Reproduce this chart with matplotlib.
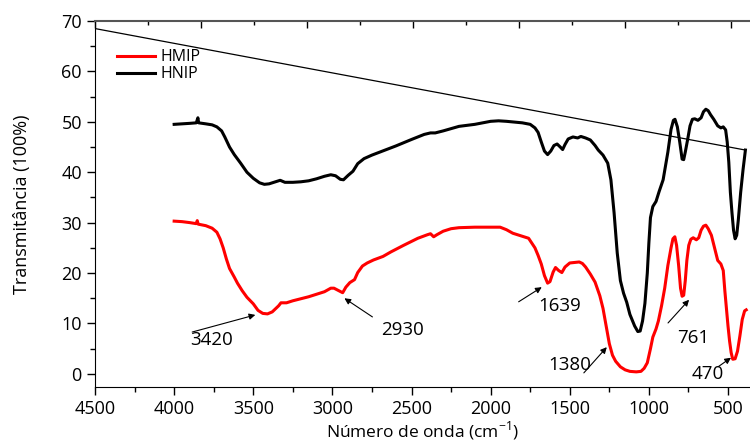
import matplotlib
matplotlib.use("Agg")
import matplotlib.pyplot as plt
from matplotlib.ticker import MultipleLocator

plt.rcParams['font.family'] = ['Open Sans', 'DejaVu Sans']

# HNIP (curva preta)
hnip_x = [4000, 3900, 3860, 3850, 3845, 3800, 3760, 3730, 3700, 3680, 3650, 3620, 3580, 3540,
          3500, 3460, 3430, 3400, 3360, 3330, 3300, 3250, 3200, 3150, 3100, 3050, 3010,
          2980, 2950, 2930, 2900, 2870, 2840, 2800, 2750, 2700, 2600, 2500, 2420, 2380,
          2350, 2300, 2200, 2100, 2000, 1950, 1900, 1800, 1750, 1720, 1700, 1680, 1660,
          1640, 1620, 1600, 1580, 1560, 1545, 1530, 1510, 1480, 1450, 1430, 1400, 1370,
          1340, 1320, 1290, 1260, 1240, 1220, 1200, 1180, 1160, 1140, 1120, 1090, 1070,
          1055, 1040, 1025, 1010, 1000, 990, 975, 955, 935, 910, 880, 860, 845, 835, 820,
          805, 790, 780, 770, 755, 740, 725, 710, 690, 670, 655, 640, 625, 610, 590, 565,
          545, 530, 515, 505, 495, 485, 475, 465, 455, 445, 435, 420, 405, 390]
hnip_y = [49.5, 49.7, 49.8, 50.8, 49.8, 49.6, 49.4, 49.0, 48.2, 47.0, 45.0, 43.5, 41.8, 40.0,
          38.8, 37.9, 37.6, 37.7, 38.1, 38.4, 38.0, 38.0, 38.1, 38.3, 38.7, 39.2, 39.5,
          39.3, 38.6, 38.5, 39.4, 40.2, 41.7, 42.7, 43.4, 44.0, 45.2, 46.5, 47.5, 47.8,
          47.8, 48.2, 49.1, 49.5, 50.1, 50.2, 50.1, 49.8, 49.5, 48.8, 47.9, 46.0, 44.2,
          43.5, 44.2, 45.3, 45.6, 45.0, 44.5, 45.5, 46.6, 47.0, 46.8, 47.1, 46.8, 46.4,
          45.3, 44.4, 43.4, 41.8, 38.5, 32.0, 24.0, 18.5, 16.0, 14.2, 11.8, 9.5, 8.4,
          8.5, 10.5, 14.0, 20.0, 26.0, 31.0, 33.2, 34.2, 36.2, 38.5, 44.0, 48.5, 50.3, 50.5, 49.0,
          46.0, 42.6, 42.5, 44.0, 46.5, 49.2, 50.5, 50.6, 50.3, 50.8, 52.0, 52.5, 52.2, 51.4, 50.5, 49.2,
          48.8, 49.0, 48.4, 46.0, 42.0, 36.0, 32.0, 28.5, 26.8, 27.5, 30.5, 36.0, 40.5, 44.4]

# HMIP (curva vermelha)
hmip_x = [4000, 3950, 3900, 3860, 3854, 3848, 3800, 3760, 3730, 3710, 3690, 3670, 3650,
          3620, 3600, 3570, 3540, 3500, 3470, 3440, 3410, 3380, 3360, 3340, 3325, 3290,
          3250, 3200, 3150, 3100, 3050, 3010, 2990, 2960, 2935, 2915, 2890, 2860, 2840,
          2810, 2780, 2740, 2680, 2630, 2550, 2460, 2400, 2380, 2360, 2340, 2300, 2250,
          2200, 2100, 2000, 1940, 1900, 1860, 1800, 1760, 1720, 1700, 1680, 1660, 1640,
          1625, 1605, 1590, 1570, 1550, 1530, 1500, 1470, 1440, 1420, 1400, 1370, 1340,
          1310, 1290, 1270, 1250, 1230, 1210, 1180, 1150, 1120, 1080, 1050, 1030, 1010,
          990, 975, 955, 940, 920, 900, 880, 860, 848, 836, 825, 812, 800, 790, 780, 770,
          760, 748, 735, 720, 700, 685, 670, 655, 640, 625, 605, 585, 565, 545, 530, 520,
          510, 500, 490, 480, 470, 455, 440, 425, 410, 395, 385]
hmip_y = [30.3, 30.2, 30.0, 29.8, 30.4, 29.7, 29.4, 28.9, 28.1, 26.8, 25.0, 22.8, 20.9,
          19.2, 18.0, 16.5, 15.2, 13.9, 12.6, 12.0, 11.9, 12.3, 12.9, 13.5, 14.1, 14.1,
          14.5, 14.9, 15.3, 15.8, 16.3, 17.0, 17.0, 16.5, 16.1, 17.2, 18.1, 18.7, 20.1,
          21.4, 22.0, 22.6, 23.3, 24.2, 25.5, 26.9, 27.6, 27.8, 27.2, 27.6, 28.3, 28.8,
          29.0, 29.1, 29.1, 29.1, 28.6, 27.9, 27.3, 26.9, 25.0, 23.5, 21.8, 19.5, 18.0,
          18.3, 20.2, 21.1, 20.5, 20.1, 21.2, 22.0, 22.1, 22.2, 21.9, 21.2, 19.8, 18.2,
          15.5, 13.0, 9.5, 6.0, 3.7, 2.5, 1.4, 0.8, 0.5, 0.4, 0.5, 1.1, 2.2,
          5.0, 7.3, 8.9, 10.5, 13.5, 17.0, 21.5, 25.0, 26.8, 27.2, 25.5, 21.5, 17.0, 15.4, 15.6, 18.5,
          22.5, 25.5, 26.7, 27.0, 26.6, 27.0, 28.5, 29.3, 29.5, 28.8, 27.5, 25.0, 22.5, 21.8, 20.5, 16.5,
          13.0, 9.5, 6.5, 4.2, 2.9, 3.0, 4.5, 7.5, 10.8, 12.5, 12.7]

# linha de base (reta)
base_x = [4500, 390]
base_y = [68.5, 44.4]

# anotações: texto, posição do texto, cauda e ponta da seta
labels = ["3420", "2930", "1639", "1380", "761", "470"]
label_pos = [(3761, 6.7), (2554, 8.7), (1562, 13.5), (1498, 1.8), (721, 7.1), (626, 0.0)]
arrow_tail = [(3886, 8.3), (2747, 11.3), (1823, 14.3), (1411, 0.2), (879, 10.1), (563, 1.4)]
arrow_head = [(3487, 11.7), (2924, 15.0), (1677, 17.2), (1266, 5.3), (746, 14.7), (481, 3.2)]

fig = plt.figure(figsize=(7.5, 4.44), dpi=100)
ax = fig.add_axes([0.1267, 0.1284, 0.8733, 0.8243])

ax.plot(hmip_x, hmip_y, color="#ff0000", lw=2.2, label="HMIP")
ax.plot(hnip_x, hnip_y, color="black", lw=2.2, label="HNIP")
ax.plot(base_x, base_y, color="black", lw=0.9)

for txt, pos, tail, head in zip(labels, label_pos, arrow_tail, arrow_head):
    ax.text(pos[0], pos[1], txt, ha="center", va="center", fontsize=13.5)
    ax.annotate("", xy=head, xytext=tail,
                arrowprops=dict(arrowstyle="-|>", color="black", lw=0.8,
                                mutation_scale=9, shrinkA=0, shrinkB=0))

ax.set_xlim(4500, 361)
ax.set_ylim(-2.6, 70)
ax.xaxis.set_major_locator(MultipleLocator(500))
ax.xaxis.set_minor_locator(MultipleLocator(250))
ax.yaxis.set_major_locator(MultipleLocator(10))
ax.yaxis.set_minor_locator(MultipleLocator(5))
ax.tick_params(which="major", direction="out", length=6, width=1, labelsize=13)
ax.tick_params(which="minor", direction="out", length=3.5, width=1)
ax.spines["right"].set_visible(False)
ax.spines["top"].set_visible(False)

# eixo superior sem rótulos
top = ax.twiny()
top.set_xlim(0, 6.18)
top.xaxis.set_major_locator(MultipleLocator(1))
top.xaxis.set_minor_locator(MultipleLocator(0.5))
top.tick_params(which="major", direction="in", length=5, width=1, labeltop=False)
top.tick_params(which="minor", direction="in", length=3, width=1)
top.spines["top"].set_color("#555555")
top.spines["top"].set_linewidth(1.5)
for s in ["left", "right", "bottom"]:
    top.spines[s].set_visible(False)

ax.set_xlabel("Número de onda (cm$^{\\mathregular{-1}}$)", fontsize=12.5)
ax.xaxis.set_label_coords(0.5, -0.088)
ax.set_ylabel("Transmitância (100%)", fontsize=13)
ax.yaxis.set_label_coords(-0.097, 0.5)

ax.legend(loc="upper left", bbox_to_anchor=(0.024, 0.94), frameon=False, fontsize=11.5,
          handlelength=2.4, handletextpad=0.3, labelspacing=0.05, borderaxespad=0)

fig.savefig("out.png", dpi=100)
